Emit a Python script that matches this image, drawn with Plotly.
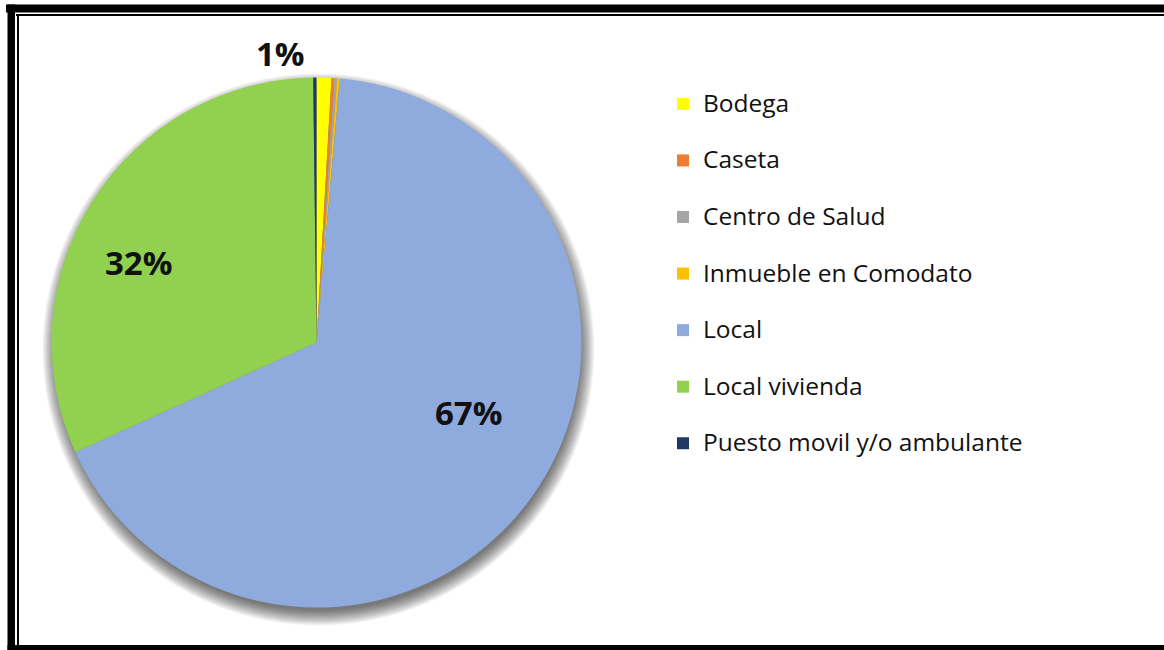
import plotly.graph_objects as go

# ---- data ----
categories = ["Bodega", "Caseta", "Centro de Salud", "Inmueble en Comodato",
              "Local", "Local vivienda", "Puesto movil y/o ambulante"]
values = [0.9, 0.18, 0.16, 0.16, 66.8, 31.6, 0.2]
colors = ["#FFFF00", "#ED7D31", "#A5A5A5", "#FFC000", "#8FAADC", "#92D050", "#1F3864"]
shown_labels = ["Bodega", "Local", "Local vivienda"]

W, H = 1164, 650
def px(x):
    return x / W
def py(y):
    return 1 - y / H

cx, cy, R = 316.5, 342.5, 265

# legend entries: label plus a blank second line to reproduce the row spacing
legend_labels = [f"<span style='font-size:24.5px'>{c}</span><br>&nbsp;" for c in categories]

fig = go.Figure()
fig.add_trace(go.Pie(
    labels=legend_labels,
    values=values,
    marker=dict(colors=colors, line=dict(width=0)),
    sort=False,
    direction="clockwise",
    rotation=0,
    textinfo="none",
    hovertemplate="%{value}<extra></extra>",
    domain=dict(x=[px(cx - R), px(cx + R)], y=[py(cy + R), py(cy - R)]),
    showlegend=True,
))

total = sum(values)
label_pos = {"Bodega": (280, 53), "Local": (468, 412), "Local vivienda": (138, 262)}
annotations = []
for cat, v in zip(categories, values):
    if cat in shown_labels:
        x, y = label_pos[cat]
        annotations.append(dict(
            x=px(x), y=py(y), xref="paper", yref="paper",
            text=f"<b>{round(v / total * 100)}%</b>", showarrow=False,
            font=dict(family="Open Sans", size=33, color="#111111"),
            xanchor="center", yanchor="middle"))

shapes = []
# soft shadow under the pie
for k in range(-4, 12):
    r = R + k
    ox, oy = cx + 2, cy + 7
    shapes.append(dict(type="circle", xref="paper", yref="paper", layer="below",
                       x0=px(ox - r), x1=px(ox + r), y0=py(oy + r), y1=py(oy - r),
                       fillcolor="rgba(0,0,0,0.045)", line=dict(width=0)))
# frame
def rect(x0, y0, x1, y1):
    return dict(type="rect", xref="paper", yref="paper", layer="above",
                x0=px(x0), x1=px(x1), y0=py(y1), y1=py(y0),
                fillcolor="black", line=dict(width=0))
shapes += [
    rect(6, 4.5, W, 12.5),
    rect(16, 14, W, 16),
    rect(7.5, 4.5, 15, H),
    rect(17, 14, 19, H),
    rect(7.5, 645, W, H),
]

fig.update_layout(
    width=W, height=H,
    margin=dict(l=0, r=0, t=0, b=0),
    paper_bgcolor="white",
    plot_bgcolor="white",
    showlegend=True,
    legend=dict(
        x=px(663), y=py(84), xanchor="left", yanchor="top",
        font=dict(family="Open Sans", size=20.6, color="#111111"),
        valign="top",
        bgcolor="rgba(0,0,0,0)",
    ),
    annotations=annotations,
    shapes=shapes,
)

fig.write_html("out.html", config={"displayModeBar": False},
               post_script="document.body.style.margin='0';document.body.style.overflow='hidden';")
